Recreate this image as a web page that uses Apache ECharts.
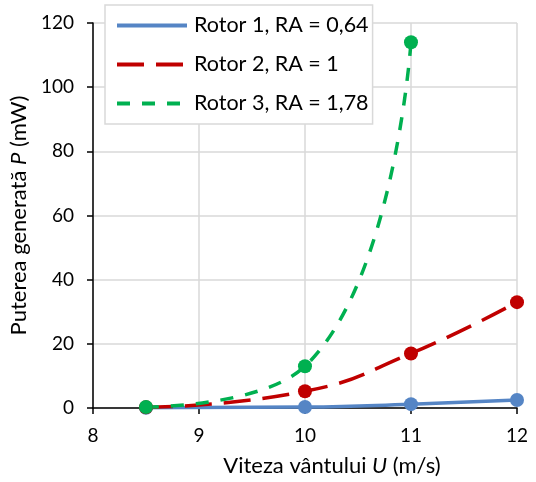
<!DOCTYPE html>
<html>
<head>
<meta charset="utf-8">
<script src="https://cdn.jsdelivr.net/npm/echarts@6/dist/echarts.min.js"></script>
<style>
  html, body { margin: 0; padding: 0; background: #fff; }
  #chart { width: 536px; height: 482px; }
</style>
</head>
<body>
<div id="chart"></div>
<script>
// wind speed U (m/s) and generated power P (mW)
var rotor1 = [[8.5, 0.05], [10, 0.3], [11, 1.2], [12, 2.5]];
var rotor2 = [[8.5, 0.2], [10, 5.2], [11, 17], [12, 33]];
var rotor3 = [[8.5, 0.3], [10, 13], [11, 114]];
var seriesNames = ["Rotor 1, RA = 0,64", "Rotor 2, RA = 1", "Rotor 3, RA = 1,78"];

var FONT = "Lato";
var grey = "#d9d9d9";

function lineSeries(name, data, color, dash) {
    return {
        name: name,
        type: "line",
        data: data,
        smooth: 0.5,
        symbol: "circle",
        symbolSize: 14,
        itemStyle: { color: color },
        lineStyle: { color: color, width: 3.5, type: dash, cap: "butt" },
        emphasis: { disabled: true },
    };
}

var chart = echarts.init(document.getElementById("chart"), null, { renderer: "canvas" });
chart.setOption({
    animation: false,
    backgroundColor: "#fff",
    textStyle: { fontFamily: FONT },
    grid: { left: 90, right: 19, top: 23, bottom: 73 },
    legend: {
        left: 105,
        top: 5,
        orient: "vertical",
        padding: [9, 4, 9, 10],
        itemWidth: 70,
        itemHeight: 14,
        itemGap: 16,
        backgroundColor: "#fff",
        borderColor: grey,
        borderWidth: 1.5,
        borderRadius: 0,
        itemStyle: { opacity: 0 },
        lineStyle: { width: 4 },
        textStyle: { fontFamily: FONT, fontSize: 21.5, lineHeight: 23, color: "#000", padding: [0, 0, 0, 2] },
        data: seriesNames,
    },
    xAxis: {
        type: "value",
        min: 8,
        max: 12,
        interval: 1,
        name: "Viteza vântului {i|U} (m/s)",
        nameLocation: "middle",
        nameGap: 47,
        nameTextStyle: {
            fontFamily: FONT, fontSize: 22, color: "#000",
            padding: [0, 0, 0, 54],
            rich: { i: { fontFamily: FONT, fontSize: 22, fontStyle: "italic", color: "#000" } },
        },
        axisLine: { show: true, onZero: false, lineStyle: { color: "#000", width: 1.5 } },
        axisTick: { show: true, length: 6, lineStyle: { color: "#000", width: 1.5 } },
        axisLabel: { fontFamily: FONT, fontSize: 19, color: "#000", margin: 18 },
        splitLine: { show: true, lineStyle: { color: grey, width: 1.5 } },
    },
    yAxis: {
        type: "value",
        min: 0,
        max: 120,
        interval: 20,
        name: "Puterea generată {i|P} (mW)",
        nameLocation: "middle",
        nameGap: 54,
        nameTextStyle: {
            fontFamily: FONT, fontSize: 22, color: "#000",
            rich: { i: { fontFamily: FONT, fontSize: 22, fontStyle: "italic", color: "#000" } },
        },
        axisLine: { show: true, lineStyle: { color: "#000", width: 1.5 } },
        axisTick: { show: true, length: 6, lineStyle: { color: "#000", width: 1.5 } },
        axisLabel: { fontFamily: FONT, fontSize: 19, color: "#000", margin: 19 },
        splitLine: { show: true, lineStyle: { color: grey, width: 1.5 } },
    },
    series: [
        lineSeries(seriesNames[0], rotor1, "#5585c5", "solid"),
        lineSeries(seriesNames[1], rotor2, "#c00000", [27, 12]),
        lineSeries(seriesNames[2], rotor3, "#00b050", [13, 12]),
    ],
});
</script>
</body>
</html>
